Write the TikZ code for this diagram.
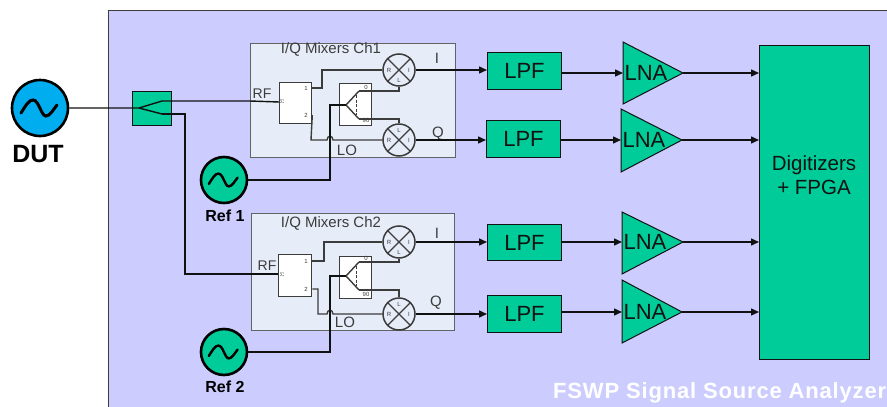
\documentclass[tikz,border=0pt]{standalone}
\usepackage{fontspec}
\setmainfont{Liberation Sans}
\newfontfamily\spacedbold[LetterSpace=3.7,BoldFont={Liberation Sans Bold}]{Liberation Sans}
\usetikzlibrary{arrows.meta,calc}
\definecolor{panelc}{HTML}{CCCCFF}
\definecolor{greenc}{HTML}{00CC99}
\definecolor{bluec}{HTML}{00AEEF}
\definecolor{mixc}{HTML}{E6ECF8}
\definecolor{linec}{HTML}{111111}
\definecolor{greyc}{HTML}{3C3C3C}
\newcommand{\fs}[1]{\fontsize{#1}{#1}\selectfont}
\newcommand{\wavesym}[2]{\draw[line width=#2*3pt,line cap=round,shift={(#1)},scale=#2]
  (-19,5) .. controls (-14,-3) and (-11,-8) .. (-7,-8) .. controls (-1,-8) and (1,8) .. (6,8) .. controls (10,8) and (13,2) .. (17,-3);}
\newcommand{\mixersym}[1]{%
  \draw[greyc,line width=1.3pt] (#1.45) -- (#1.225) (#1.135) -- (#1.315);
}
\tikzset{
  x=1pt,y=-1pt,
  wire/.style={line width=1.4pt,draw=linec},
  soft/.style={line width=1.4pt,draw=greyc},
  arrowed/.style={wire,-{Triangle[length=8pt,width=7pt]}},
  greenbox/.style={draw=linec,fill=greenc,line width=1pt,inner sep=0pt,font=\fs{22},text=linec},
  mixpanel/.style={draw=greyc!80,fill=mixc,line width=1.2pt},
  whitebox/.style={draw=greyc,fill=white,line width=1.3pt},
  mixer/.style={circle,draw=greyc,fill=mixc,line width=1.5pt,minimum size=32pt,inner sep=0pt},
  source/.style={circle,draw=black,line width=2.6pt,inner sep=0pt},
  lnatri/.style={draw=linec,fill=greenc,line width=1pt},
  small/.style={font=\fs{15},text=greyc,inner sep=0pt},
  tiny/.style={font=\fs{6},text=greyc,inner sep=0pt},
  srclabel/.style={font=\bfseries\fs{16},text=black,inner sep=0pt},
}
\begin{document}
\begin{tikzpicture}
\useasboundingbox (0,0) rectangle (887,407);
\fill[white] (0,0) rectangle (887,407);
\fill[panelc] (108,10) rectangle (887,407);
\draw[line width=1pt,greyc] (108,407) -- (108,10) -- (887,10);

% mixer panels
\node[mixpanel,minimum width=205pt,minimum height=114pt,inner sep=0pt,anchor=north west] (pa) at (250,43) {};
\node[mixpanel,minimum width=203pt,minimum height=117pt,inner sep=0pt,anchor=north west] (pb) at (251,213) {};
\node[small] (ta) at (331,49) {I/Q Mixers Ch1};
\node[small] (tb) at (331,223) {I/Q Mixers Ch2};

% sources
\node[source,fill=bluec,minimum size=56pt] (dut) at (40,108) {};
\node[source,fill=greenc,minimum size=46pt] (r1) at (224,180) {};
\node[source,fill=greenc,minimum size=46pt] (r2) at (224,352) {};
\wavesym{dut}{1}
\wavesym{r1}{0.8}
\wavesym{r2}{0.8}
\node[font=\bfseries\fs{25},text=black,inner sep=0pt] (dutl) at (38,154) {DUT};
\node[srclabel] (r1l) at (225,216) {Ref 1};
\node[srclabel] (r2l) at (225,387) {Ref 2};

% splitter
\node[draw=linec,fill=greenc,line width=1pt,anchor=north west,minimum width=39pt,minimum height=34pt,inner sep=0pt] (sp) at (132,91) {};
\coordinate (spc) at (139,108);
\coordinate (spa) at (162,101);
\coordinate (spb) at (162,114);
\draw[wire] (dut.east) -- (spc) -- (spa);
\draw[wire] (spc) -- (spb);

% channel blocks
\node[whitebox,anchor=north west,minimum width=32pt,minimum height=41pt,inner sep=0pt] (qa) at (279,82) {};
\node[whitebox,anchor=north west,minimum width=32pt,minimum height=42pt,inner sep=0pt] (ha) at (339,83) {};
\node[whitebox,anchor=north west,minimum width=33pt,minimum height=42pt,inner sep=0pt] (qb) at (278,254) {};
\node[whitebox,anchor=north west,minimum width=32pt,minimum height=42pt,inner sep=0pt] (hb) at (339,256) {};

% mixers
\node[mixer] (ma) at (399,70) {};
\node[mixer] (mb) at (399,140) {};
\node[mixer] (mc) at (399,242) {};
\node[mixer] (md) at (399,314) {};
\mixersym{ma}\mixersym{mb}\mixersym{mc}\mixersym{md}
\foreach \m in {ma,mb,mc,md}{
  \node[tiny] at ($(\m)+(-10,0)$) {R};
  \node[tiny] at ($(\m)+(10,0)$) {I};
}
\node[tiny] at ($(ma)+(0,10)$) {L};
\node[tiny] at ($(mc)+(0,10)$) {L};
\node[tiny] at ($(mb)+(0,-10)$) {L};
\node[tiny] at ($(md)+(0,-10)$) {L};

% labels in the panels
\node[small,font=\fs{14}] (rfa) at (262,94) {RF};
\node[small,font=\fs{14}] (rfb) at (267,266) {RF};
\node[small] (loa) at (347,150) {LO};
\node[small] (lob) at (345,322) {LO};
\node[small] (ia) at (437,58) {I};
\node[small] (qqa) at (438,134) {Q};
\node[small] (ib) at (437,233) {I};
\node[small] (qqb) at (436,303) {Q};
\node[tiny] at (282,102) {$\scriptstyle\Sigma$};
\node[tiny] at (282,275) {$\scriptstyle\Sigma$};
\node[tiny] at (306,88) {1};
\node[tiny] at (306,115) {2};
\node[tiny] at (306,261) {1};
\node[tiny] at (306,289) {2};
\node[tiny] at (366,87) {0};
\node[tiny] at (366,120) {90};
\node[tiny] at (366,258) {0};
\node[tiny] at (366,294) {90};

% hybrid couplers: two arms and a coil
\foreach \x/\y in {346/105,346/276}{
  \draw[soft] (\x+13,\y-14) -- (\x,\y) -- (\x+13,\y+14);
  \draw[soft,line width=1pt,dash pattern=on 3pt off 1.5pt] (\x+10,\y-10) -- (\x+10,\y+10);
}

% RF in
\draw[wire] (spa) -- (250,101) -- (qa.west |- 0,102);
\coordinate (rfbend) at (185,274);
\draw[wire] (spb) -- (185,114) -- (rfbend) -- (qb.west |- rfbend);

% mixer wiring channel 1
\draw[soft] (qa.east |- 0,88) -- (322,88) -- (322,70) -- (ma.west);
\draw[soft] (qa.east |- 0,115) -- (311,140) -- (327,140) .. controls (327,135) and (333,135) .. (333,140) -- (mb.west);
\draw[soft] (359,91) -- (399,91) -- (ma.south);
\draw[soft] (359,119) -- (399,119) -- (mb.north);
\draw[wire] (r1.east) -- (330,180) -- (330,105) -- (346,105);

% mixer wiring channel 2
\draw[soft] (qb.east |- 0,261) -- (324,261) -- (324,242) -- (mc.west);
\draw[soft] (qb.east |- 0,289) -- (318,289) -- (318,314) -- (327,314) .. controls (327,309) and (333,309) .. (333,314) -- (md.west);
\draw[soft] (359,262) -- (399,262) -- (mc.south);
\draw[soft] (359,290) -- (399,290) -- (md.north);
\draw[wire] (r2.east) -- (330,352) -- (330,276) -- (346,276);

% LPF
\node[greenbox,anchor=north west,minimum width=74pt,minimum height=37pt] (la) at (487,52) {LPF};
\node[greenbox,anchor=north west,minimum width=74pt,minimum height=37pt] (lb) at (486,120) {LPF};
\node[greenbox,anchor=north west,minimum width=74pt,minimum height=36pt] (lc) at (487,224) {LPF};
\node[greenbox,anchor=north west,minimum width=74pt,minimum height=37pt] (ld) at (487,295) {LPF};

% LNA
\foreach \n/\x/\t/\b/\ax/\ay in {na/623/42/104/683/73,nb/621/109/172/682/140,nc/622/212/274/683/242,nd/622/280/343/682/312}{
  \draw[lnatri] (\x,\t) -- (\x,\b) -- (\ax,\ay) -- cycle;
  \coordinate (\n) at (\x,\ay);
  \coordinate (\n o) at (\ax,\ay);
  \node[font=\fs{22},text=linec,inner sep=0pt] at (\x+23,\ay-.5) {LNA};
}

% Digitizers
\node[greenbox,anchor=north west,minimum width=110pt,minimum height=314pt] (dg) at (759,45) {};
\node[font=\fs{20.5},align=center,text=linec,inner sep=0pt] (dgt) at (814,175) {Digitizers\\[4pt]+ FPGA};

% outputs and chains
\draw[arrowed] (ma.east) -- (la.west |- ma);
\draw[arrowed] (mb.east) -- (lb.west |- mb);
\draw[arrowed] (mc.east) -- (lc.west |- mc);
\draw[arrowed] (md.east) -- (ld.west |- md);
\draw[arrowed] (la.east |- na) -- (na);
\draw[arrowed] (lb.east |- nb) -- (nb);
\draw[arrowed] (lc.east |- nc) -- (nc);
\draw[arrowed] (ld.east |- nd) -- (nd);
\draw[arrowed] (nao) -- (dg.west |- nao);
\draw[arrowed] (nbo) -- (dg.west |- nbo);
\draw[arrowed] (nco) -- (dg.west |- nco);
\draw[arrowed] (ndo) -- (dg.west |- ndo);

\node[font=\spacedbold\bfseries\fs{22},text=white,inner sep=0pt,anchor=west] (title) at (553,393) {FSWP Signal Source Analyzer};
\end{tikzpicture}
\end{document}
